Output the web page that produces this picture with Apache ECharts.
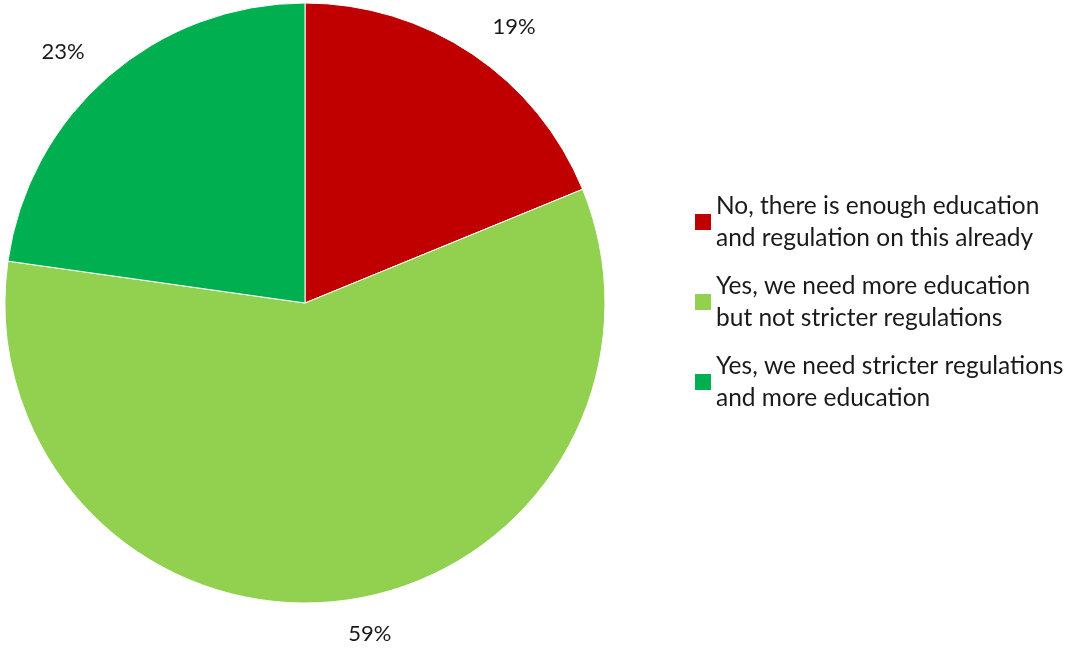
<!DOCTYPE html>
<html>
<head>
<meta charset="utf-8">
<script src="https://cdn.jsdelivr.net/npm/echarts@6/dist/echarts.min.js"></script>
<style>
  html, body { margin: 0; padding: 0; background: #fff; }
  #chart { width: 1072px; height: 648px; }
</style>
</head>
<body>
<div id="chart"></div>
<script>
// Survey answers (percent of respondents)
const categories = [
  'No, there is enough education\nand regulation on this already',
  'Yes, we need more education\nbut not stricter regulations',
  'Yes, we need stricter regulations\nand more education'
];
const values = [19, 59, 23];
const colors = ['#C00000', '#92D050', '#00B050'];

const FONT = 'Lato, "Open Sans", sans-serif';

const chart = echarts.init(document.getElementById('chart'), null, { renderer: 'canvas' });

chart.setOption({
  animation: false,
  backgroundColor: '#ffffff',
  legend: {
    orient: 'vertical',
    left: 695,
    top: 174,
    padding: 0,
    icon: 'rect',
    itemWidth: 16,
    itemHeight: 16,
    itemGap: -16,
    itemStyle: { borderWidth: 0 },
    textStyle: {
      fontFamily: FONT,
      fontSize: 24.5,
      lineHeight: 32,
      color: '#1a1a1a',
      padding: [32, 0, 0, 0]
    },
    data: categories
  },
  series: [{
    type: 'pie',
    center: [305, 303],
    radius: [0, 300],
    startAngle: 90,
    clockwise: true,
    itemStyle: { borderColor: '#ffffff', borderWidth: 1 },
    label: {
      show: true,
      position: 'outside',
      formatter: p => p.value + '%',
      fontFamily: FONT,
      fontSize: 22,
      color: '#1a1a1a',
      distanceToLabelLine: 2
    },
    labelLine: { show: false, length: 33, length2: 0 },
    data: categories.map((name, i) => ({
      name,
      value: values[i],
      itemStyle: { color: colors[i] }
    }))
  }]
});
</script>
</body>
</html>
